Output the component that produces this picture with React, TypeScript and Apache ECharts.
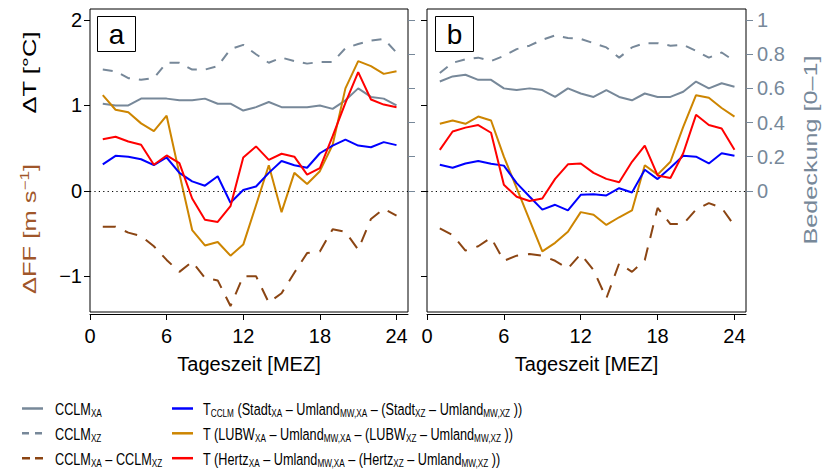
import React, { useEffect, useRef } from "react";
import * as echarts from "echarts";

// ---------- data ----------
const hours = [1, 2, 3, 4, 5, 6, 7, 8, 9, 10, 11, 12, 13, 14, 15, 16, 17, 18, 19, 20, 21, 22, 23, 24];

// panel a
const aCloudXA = [0.51, 0.5, 0.5, 0.54, 0.54, 0.54, 0.53, 0.53, 0.54, 0.51, 0.51, 0.47, 0.49, 0.52, 0.49, 0.49, 0.49, 0.5, 0.48, 0.53, 0.6, 0.55, 0.54, 0.5];
const aCloudXZ = [0.71, 0.7, 0.66, 0.65, 0.66, 0.75, 0.75, 0.71, 0.71, 0.73, 0.83, 0.855, 0.8, 0.75, 0.78, 0.76, 0.745, 0.755, 0.755, 0.835, 0.86, 0.88, 0.89, 0.81];
const aDeltaFF = [-0.42, -0.42, -0.49, -0.53, -0.65, -0.81, -0.95, -0.83, -1.02, -1.05, -1.35, -1.0, -1.0, -1.31, -1.2, -0.96, -0.73, -0.71, -0.45, -0.48, -0.69, -0.33, -0.21, -0.29];
const aTcclm = [0.31, 0.41, 0.4, 0.37, 0.3, 0.39, 0.21, 0.11, 0.06, 0.17, -0.14, 0.01, 0.05, 0.21, 0.35, 0.3, 0.27, 0.44, 0.53, 0.6, 0.53, 0.51, 0.57, 0.535];
const aTlubw = [1.12, 0.95, 0.92, 0.79, 0.7, 0.88, 0.2, -0.46, -0.64, -0.6, -0.76, -0.63, -0.17, 0.3, -0.25, 0.21, 0.08, 0.23, 0.54, 1.2, 1.52, 1.46, 1.37, 1.4];
const aThertz = [0.605, 0.633, 0.578, 0.54, 0.305, 0.414, 0.324, -0.09, -0.34, -0.365, -0.18, 0.39, 0.52, 0.363, 0.434, 0.4, 0.19, 0.266, 0.64, 1.03, 1.39, 1.07, 1.01, 0.98];

// panel b
const bCloudXA = [0.64, 0.67, 0.68, 0.65, 0.65, 0.6, 0.59, 0.6, 0.59, 0.55, 0.6, 0.57, 0.55, 0.59, 0.55, 0.53, 0.57, 0.55, 0.55, 0.58, 0.64, 0.6, 0.63, 0.61];
const bCloudXZ = [0.69, 0.75, 0.77, 0.78, 0.76, 0.79, 0.83, 0.85, 0.885, 0.91, 0.895, 0.89, 0.865, 0.84, 0.78, 0.84, 0.865, 0.865, 0.85, 0.855, 0.82, 0.78, 0.81, 0.76];
const bDeltaFF = [-0.44, -0.52, -0.7, -0.65, -0.55, -0.82, -0.76, -0.74, -0.76, -0.82, -0.91, -0.74, -0.93, -1.26, -0.85, -0.95, -0.81, -0.2, -0.39, -0.39, -0.22, -0.145, -0.2, -0.41];
const bTcclm = [0.305, 0.27, 0.32, 0.35, 0.316, 0.295, 0.09, -0.066, -0.22, -0.164, -0.23, -0.047, -0.04, -0.055, 0.03, -0.02, 0.246, 0.137, 0.27, 0.41, 0.4, 0.32, 0.44, 0.41];
const bTlubw = [0.785, 0.824, 0.785, 0.87, 0.824, 0.4, 0.03, -0.34, -0.71, -0.61, -0.48, -0.25, -0.28, -0.4, -0.31, -0.23, 0.3, 0.19, 0.34, 0.75, 1.12, 1.09, 0.97, 0.87];
const bThertz = [0.48, 0.695, 0.74, 0.77, 0.68, 0.07, -0.07, -0.12, -0.09, 0.14, 0.31, 0.32, 0.21, 0.14, 0.1, 0.34, 0.53, 0.18, 0.15, 0.44, 0.89, 0.77, 0.73, 0.48];

// ticks
const xTicks = [0, 6, 12, 18, 24];
const leftTicks = [-1, 0, 1, 2];
const rightTicks = [0, 0.2, 0.4, 0.6, 0.8, 1];

const panelLabels = ["a", "b"];

// ---------- styles ----------
const FONT = "'Liberation Sans', Arial, Helvetica, sans-serif";
const GRAY = "#778899";
const BROWN = "#8B4513";
const BROWN_TXT = "#A0562A";
const ORANGE = "#CD8500";
const BLUE = "#0000FF";
const RED = "#FF0000";

const panels = [
  { xa: aCloudXA, xz: aCloudXZ, ff: aDeltaFF, cclm: aTcclm, lubw: aTlubw, hertz: aThertz },
  { xa: bCloudXA, xz: bCloudXZ, ff: bDeltaFF, cclm: bTcclm, lubw: bTlubw, hertz: bThertz },
];

const pair = (vals: number[]) => vals.map((v, i) => [hours[i], v]);
const fmtMinus = (v: number) => (v < 0 ? "\u2212" + Math.abs(v) : String(v));

const gridLeft = [90, 427];
const gridWidth = [318, 319];

function buildOption() {
  const grid = gridLeft.map((l, i) => ({
    left: l,
    top: 9,
    width: gridWidth[i],
    height: 303,
    show: true,
    borderColor: "#000",
    borderWidth: 1,
    backgroundColor: "transparent",
  }));

  const xAxis = [0, 1].map((gi) => ({
    type: "value",
    gridIndex: gi,
    min: 0,
    max: 24.9,
    offset: 2,
    axisLine: { show: true, onZero: false, lineStyle: { color: "#000", width: 1 } },
    axisTick: { show: true, length: 6, customValues: xTicks, lineStyle: { color: "#000", width: 1 } },
    axisLabel: { show: true, customValues: xTicks, fontSize: 20, fontFamily: FONT, color: "#000", margin: 12 },
    splitLine: { show: false },
    name: "Tageszeit [MEZ]",
    nameLocation: "middle",
    nameGap: 40,
    nameTextStyle: { fontSize: 20, fontFamily: FONT, color: "#000" },
  }));

  const yAxis: any[] = [];
  [0, 1].forEach((gi) => {
    yAxis.push({
      type: "value",
      gridIndex: gi,
      position: "left",
      min: -1.42,
      max: 2.13,
      axisLine: { show: false },
      splitLine: { show: false },
      axisTick: { show: true, length: 6, customValues: leftTicks, lineStyle: { color: "#000", width: 1 } },
      axisLabel: {
        show: gi === 0,
        customValues: leftTicks,
        fontSize: 20,
        fontFamily: FONT,
        color: "#000",
        margin: 8,
        formatter: fmtMinus,
      },
    });
    yAxis.push({
      type: "value",
      gridIndex: gi,
      position: "right",
      min: -0.71,
      max: 1.065,
      axisLine: { show: false },
      splitLine: { show: false },
      axisTick: { show: true, length: 7, customValues: rightTicks, lineStyle: { color: GRAY, width: 1 } },
      axisLabel: {
        show: gi === 1,
        customValues: rightTicks,
        fontSize: 20,
        fontFamily: FONT,
        color: GRAY,
        margin: 11,
        formatter: (v: number) => String(Math.round(v * 10) / 10),
      },
    });
  });

  const series: any[] = [];
  panels.forEach((p, gi) => {
    const base = { type: "line", xAxisIndex: gi, symbol: "none", showSymbol: false, silent: true, emphasis: { disabled: true } };
    series.push({ ...base, name: "CCLM_XA", yAxisIndex: gi * 2 + 1, data: pair(p.xa), lineStyle: { color: GRAY, width: 2 }, itemStyle: { color: GRAY }, z: 2 });
    series.push({ ...base, name: "CCLM_XZ", yAxisIndex: gi * 2 + 1, data: pair(p.xz), lineStyle: { color: GRAY, width: 2, type: [10, 9] }, itemStyle: { color: GRAY }, z: 2 });
    series.push({
      ...base,
      name: "CCLM_XA - CCLM_XZ",
      yAxisIndex: gi * 2,
      data: pair(p.ff),
      lineStyle: { color: BROWN, width: 2, type: [13, 10] },
      itemStyle: { color: BROWN },
      z: 3,
      markLine: {
        silent: true,
        symbol: ["none", "none"],
        label: { show: false },
        lineStyle: { color: "#000", width: 1, type: [1.2, 3.2] },
        emphasis: { disabled: true },
        data: [{ yAxis: 0 }],
      },
    });
    series.push({ ...base, name: "T_LUBW", yAxisIndex: gi * 2, data: pair(p.lubw), lineStyle: { color: ORANGE, width: 2 }, itemStyle: { color: ORANGE }, z: 4 });
    series.push({ ...base, name: "T_CCLM", yAxisIndex: gi * 2, data: pair(p.cclm), lineStyle: { color: BLUE, width: 2 }, itemStyle: { color: BLUE }, z: 5 });
    series.push({ ...base, name: "T_Hertz", yAxisIndex: gi * 2, data: pair(p.hertz), lineStyle: { color: RED, width: 2 }, itemStyle: { color: RED }, z: 6 });
  });

  // ----- graphic: panel letters, axis titles, legend -----
  const graphic: any[] = [];
  panelLabels.forEach((lab, i) => {
    const bx = [97.5, 435.5][i];
    graphic.push({ type: "rect", z: 100, shape: { x: bx, y: 16.5, width: 38, height: 35 }, style: { fill: "#fff", stroke: "#000", lineWidth: 1 } });
    graphic.push({
      type: "text",
      z: 101,
      x: bx + 19,
      y: 34,
      style: { text: lab, fontSize: 28, fontFamily: FONT, fill: "#000", align: "center", verticalAlign: "middle" },
    });
  });

  graphic.push({
    type: "text",
    x: 30,
    y: 72.5,
    rotation: Math.PI / 2,
    scaleX: 1.42,
    style: { text: "\u0394T [\u00B0C]", fontSize: 18, fontFamily: FONT, fill: "#000", align: "center", verticalAlign: "middle" },
  });
  graphic.push({
    type: "text",
    x: 30,
    y: 229,
    rotation: Math.PI / 2,
    scaleX: 1.42,
    style: {
      text: "{m|\u0394FF [m s}{p|\u22121}{m|]}",
      align: "center",
      verticalAlign: "middle",
      rich: {
        m: { fontSize: 18, fontFamily: FONT, fill: BROWN_TXT, lineHeight: 22 },
        p: { fontSize: 12, fontFamily: FONT, fill: BROWN_TXT, lineHeight: 12, verticalAlign: "top" },
      },
    },
  });
  graphic.push({
    type: "text",
    x: 811,
    y: 150,
    rotation: Math.PI / 2,
    scaleX: 1.4,
    style: { text: "Bedeckung [0\u20131]", fontSize: 18, fontFamily: FONT, fill: GRAY, align: "center", verticalAlign: "middle" },
  });

  const legendItems = [
    { label: "CCLM{s|XA}", color: GRAY, dash: null as any, col: 0, row: 0 },
    { label: "CCLM{s|XZ}", color: GRAY, dash: [7, 6], col: 0, row: 1 },
    { label: "CCLM{s|XA} \u2013 CCLM{s|XZ}", color: BROWN, dash: [8, 5], col: 0, row: 2 },
    { label: "T{s|CCLM} (Stadt{s|XA} \u2013 Umland{s|MW,XA} \u2013 (Stadt{s|XZ} \u2013 Umland{s|MW,XZ} ))", color: BLUE, dash: null, col: 1, row: 0 },
    { label: "T (LUBW{s|XA} \u2013 Umland{s|MW,XA} \u2013 (LUBW{s|XZ} \u2013 Umland{s|MW,XZ} ))", color: ORANGE, dash: null, col: 1, row: 1 },
    { label: "T (Hertz{s|XA} \u2013 Umland{s|MW,XA} \u2013 (Hertz{s|XZ} \u2013 Umland{s|MW,XZ} ))", color: RED, dash: null, col: 1, row: 2 },
  ];
  const colIcon = [22, 172];
  const colText = [55, 203];
  const rowY = [408.5, 433.3, 458.2];
  legendItems.forEach((it) => {
    const y = rowY[it.row];
    graphic.push({
      type: "line",
      shape: { x1: colIcon[it.col], y1: y, x2: colIcon[it.col] + 21, y2: y },
      style: { stroke: it.color, lineWidth: 2.5, lineDash: it.dash || undefined },
    });
    graphic.push({
      type: "text",
      x: colText[it.col],
      y: y + 0.5,
      scaleX: 0.745,
      style: {
        text: it.label,
        fontSize: 17,
        fontFamily: FONT,
        fill: "#000",
        lineHeight: 20,
        align: "left",
        verticalAlign: "middle",
        rich: {
          s: { fontSize: 11, fontFamily: FONT, fill: "#000", lineHeight: 13, verticalAlign: "bottom" },
        },
      },
    });
  });

  return {
    animation: false,
    backgroundColor: "#fff",
    textStyle: { fontFamily: FONT },
    grid,
    xAxis,
    yAxis,
    series,
    graphic,
  };
}

export default function App() {
  const ref = useRef<HTMLDivElement>(null);
  useEffect(() => {
    if (!ref.current) return;
    const chart = echarts.init(ref.current, null, { renderer: "svg" });
    chart.setOption(buildOption() as any);
    return () => chart.dispose();
  }, []);
  return <div ref={ref} style={{ position: "absolute", left: 0, top: 0, width: 837, height: 469 }} />;
}
